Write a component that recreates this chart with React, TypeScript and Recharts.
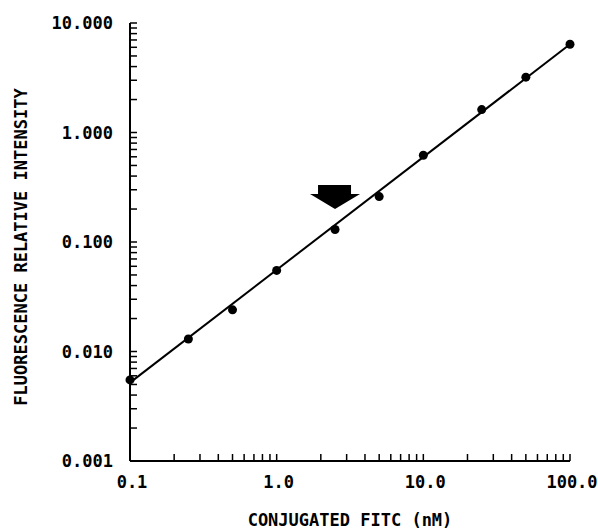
import React from "react";
import { ComposedChart, XAxis, YAxis, Scatter, ReferenceDot, Label } from "recharts";

// measured points: conjugated FITC (nM) vs relative fluorescence
const concentration = [0.1, 0.25, 0.5, 1, 2.5, 5, 10, 25, 50, 100];
const intensity = [0.0055, 0.013, 0.024, 0.055, 0.13, 0.26, 0.62, 1.62, 3.2, 6.4];

// regression line end points
const fitConcentration = [0.1, 100];
const fitIntensity = [0.0052, 6.4];

// arrow marker above the 2.5 nM point
const markerConcentration = 2.5;
const markerIntensity = 0.2;

const xDecades = [0.1, 1, 10, 100];
const yDecades = [0.001, 0.01, 0.1, 1, 10];

const FONT = "'DejaVu Sans Mono', 'Liberation Mono', monospace";

const points = concentration.map((x, i) => ({ x, y: intensity[i] }));
const fitLine = fitConcentration.map((x, i) => ({ x, y: fitIntensity[i] }));

// decade ticks plus the 2..9 minor ticks inside each decade
const logTicks = (decades: number[]) => {
  const out: number[] = [];
  decades.forEach((d, i) => {
    out.push(d);
    if (i < decades.length - 1) {
      for (let m = 2; m <= 9; m++) out.push(+(d * m).toPrecision(6));
    }
  });
  return out;
};

const isDecade = (v: number, decades: number[]) =>
  decades.some((d) => Math.abs(v - d) / d < 1e-6);

const YTick = (props: any) => {
  const { x, y, payload } = props;
  if (!isDecade(payload.value, yDecades)) return <g />;
  return (
    <text x={x} y={y + 6} textAnchor="end" fontFamily={FONT} fontSize={17} fontWeight="bold" fill="#000">
      {payload.value.toFixed(3)}
    </text>
  );
};

const XTick = (props: any) => {
  const { x, y, payload } = props;
  if (!isDecade(payload.value, xDecades)) return <g />;
  return (
    <text x={x + 2} y={y + 13} textAnchor="middle" fontFamily={FONT} fontSize={17} fontWeight="bold" fill="#000">
      {payload.value.toFixed(1)}
    </text>
  );
};

const Arrow = (props: any) => {
  const { cx, cy } = props;
  // tip at (cx, cy), pointing down
  const d = `M ${cx - 17} ${cy - 24} L ${cx + 16} ${cy - 24} L ${cx + 16} ${cy - 15} L ${cx + 25} ${cy - 15} L ${cx} ${cy} L ${cx - 25} ${cy - 15} L ${cx - 17} ${cy - 15} Z`;
  return <path d={d} fill="#000" />;
};

const Dot = (props: any) => <circle cx={props.cx} cy={props.cy} r={4.5} fill="#000" />;

export default function App() {
  return (
    <div style={{ position: "absolute", left: 0, top: 0, background: "#fff" }}>
      <ComposedChart width={598} height={531} margin={{ top: 23, right: 28, left: 20, bottom: 0 }}>
        <XAxis
          dataKey="x"
          type="number"
          scale="log"
          domain={[0.1, 100]}
          ticks={logTicks(xDecades)}
          interval={0}
          height={70}
          tickSize={-7}
          tickMargin={21}
          tick={<XTick />}
          axisLine={{ stroke: "#000", strokeWidth: 2 }}
          tickLine={{ stroke: "#000", strokeWidth: 1.5 }}
        >
          <Label
            content={(p: any) => {
              const vb = p.viewBox;
              return (
                <text
                  x={vb.x + vb.width / 2}
                  y={vb.y + 65}
                  textAnchor="middle"
                  fontFamily={FONT}
                  fontSize={17}
                  fontWeight="bold"
                  fill="#000"
                >
                  CONJUGATED FITC (nM)
                </text>
              );
            }}
          />
        </XAxis>
        <YAxis
          dataKey="y"
          type="number"
          scale="log"
          domain={[0.001, 10]}
          ticks={logTicks(yDecades)}
          interval={0}
          width={110}
          tickSize={-7}
          tickMargin={24}
          tick={<YTick />}
          axisLine={{ stroke: "#000", strokeWidth: 2 }}
          tickLine={{ stroke: "#000", strokeWidth: 1.5 }}
        >
          <Label
            content={(p: any) => {
              const vb = p.viewBox;
              const tx = vb.x + 7;
              const ty = vb.y + vb.height / 2 + 5;
              return (
                <text
                  x={tx}
                  y={ty}
                  transform={`rotate(-90, ${tx}, ${ty})`}
                  textAnchor="middle"
                  fontFamily={FONT}
                  fontSize={17}
                  fontWeight="bold"
                  fill="#000"
                >
                  FLUORESCENCE RELATIVE INTENSITY
                </text>
              );
            }}
          />
        </YAxis>
        <Scatter
          data={fitLine}
          line={{ stroke: "#000", strokeWidth: 2 }}
          shape={() => <g />}
          isAnimationActive={false}
        />
        <Scatter data={points} shape={<Dot />} isAnimationActive={false} />
        <ReferenceDot x={markerConcentration} y={markerIntensity} shape={<Arrow />} ifOverflow="visible" />
      </ComposedChart>
    </div>
  );
}
